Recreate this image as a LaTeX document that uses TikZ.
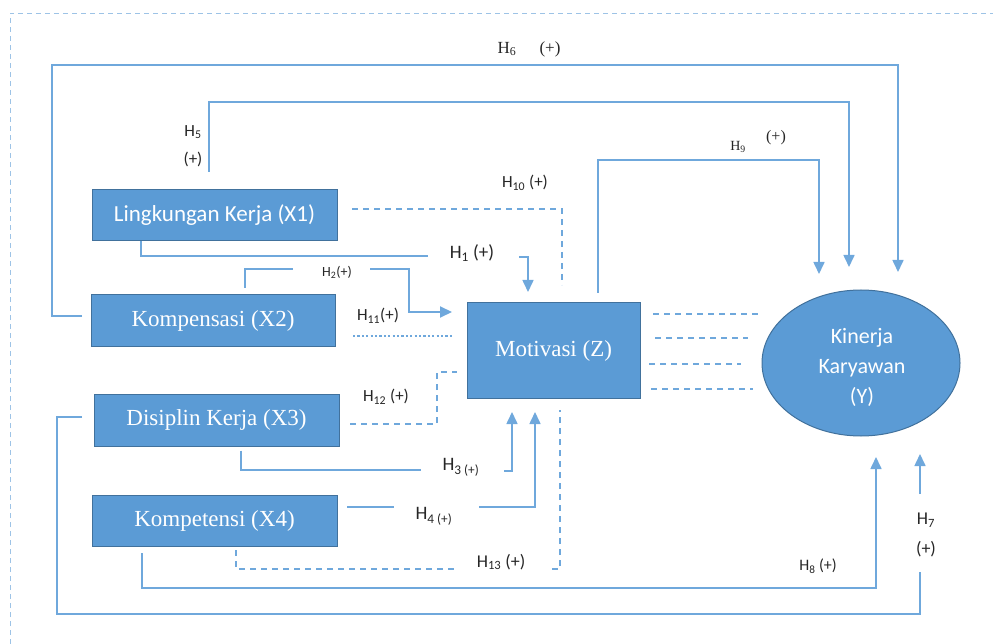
\documentclass[tikz,border=0pt]{standalone}
\usepackage{fontspec}
\setmainfont{Liberation Serif}
\newfontfamily\calib{Carlito}
\usetikzlibrary{arrows.meta,shapes.geometric}
\definecolor{boxblue}{HTML}{5B9BD5}
\definecolor{boxedge}{HTML}{41719C}
\definecolor{lineblue}{HTML}{6FA8DC}
\definecolor{frameblue}{HTML}{9DC3E6}
\newcommand\fs[1]{\fontsize{#1}{#1}\selectfont}
\tikzset{
  box/.style={draw=boxedge, fill=boxblue, line width=1pt, text=white, inner sep=0pt, minimum height=51pt, minimum width=245pt, font=\fs{23}},
  conn/.style={draw=lineblue, line width=1.1pt},
  arr/.style={conn, line width=1.6pt, -{Triangle[width=11pt,length=12pt]}},
  dsh/.style={conn, line width=1.3pt, dash pattern=on 6pt off 5pt},
  lab/.style={font=\calib\fs{17}, text=black!85, inner sep=0pt},
}
\begin{document}
\begin{tikzpicture}[x=1pt,y=-1pt]
\useasboundingbox (0,0) rectangle (993,644);
% frame
\draw[frameblue, line width=0.9pt, dash pattern=on 5pt off 4pt] (10,644) -- (10,13) -- (993,13);
% nodes
\node[box, font=\calib\fs{23}] (X1) at (214.5,215.5) {Lingkungan Kerja (X1)};
\node[box, minimum width=244pt] (X2) at (213,320.5) {Kompensasi (X2)};
\node[box, minimum height=52pt] (X3) at (216.5,420) {Disiplin Kerja (X3)};
\node[box] (X4) at (214.5,520.5) {Kompetensi (X4)};
\node[box, minimum width=173pt, minimum height=95pt] (Z) at (553.5,350.5) {Motivasi (Z)};
\node[ellipse, draw=boxedge, fill=boxblue, line width=1pt, minimum width=198pt, minimum height=146pt, inner sep=0pt] (Y) at (861,363) {};
\node[text=white, font=\calib\fs{22}, align=center, inner sep=0pt] (Ytxt) at (862,367) {Kinerja\\[8pt]Karyawan\\[8pt](Y)};
% coordinates
\coordinate (h6s) at (82,316);   \coordinate (h6e) at (898,272);
\coordinate (h5s) at (209,172);  \coordinate (h5e) at (849,267);
\coordinate (h9s) at (598,293);  \coordinate (h9e) at (819,274);
\coordinate (h10e) at (562,285);
\coordinate (h1a) at (428,256);  \coordinate (h1b) at (519,257); \coordinate (h1e) at (528,292);
\coordinate (h2a) at (293,269);  \coordinate (h2b) at (370,269); \coordinate (h2e) at (452,312);
\coordinate (h11e) at (453,336);
\coordinate (h12e) at (457,372);
\coordinate (h3a) at (421,470);  \coordinate (h3b) at (504,471); \coordinate (h3e) at (512,412);
\coordinate (h4a) at (394,507);  \coordinate (h4b) at (479,507); \coordinate (h4e) at (535,412);
\coordinate (h13a) at (454,569); \coordinate (h13b) at (552,569); \coordinate (h13e) at (560,410);
\coordinate (h8e) at (876,457);
\coordinate (h7a) at (920,572);  \coordinate (h7b) at (920,494); \coordinate (h7e) at (920,454);
% H6
\draw[conn] (h6s) -- (52,316) -- (52,65) -- (898,65) -- (898,100);
\draw[arr] (898,99) -- (h6e);
% H5
\draw[conn] (h5s) -- (209,102) -- (849,102) -- (849,120);
\draw[arr] (849,119) -- (h5e);
% H9
\draw[conn] (h9s) -- (598,160) -- (819,160) -- (819,180);
\draw[arr] (819,179) -- (h9e);
% H10
\draw[dsh] (352,209) -- (562,209) -- (h10e);
% H1
\draw[conn] ([xshift=-73.5pt]X1.south) -- (141,256) -- (h1a);
\draw[arr] (h1b) -- (528,257) -- (h1e);
% H2
\draw[conn] (245,288) -- (245,269) -- (h2a);
\draw[arr, line width=2pt] (h2b) -- (409,269) -- (409,312) -- (h2e);
% H11
\draw[lineblue, line width=2.4pt, dash pattern=on 2.2pt off 2.2pt] (353,336) -- (h11e);
% H12
\draw[dsh] (350,424) -- (437,424) -- (437,372) -- (h12e);
% H3
\draw[conn] ([xshift=24.5pt]X3.south) ++(0,4) -- (241,470) -- (h3a);
\draw[arr] (h3b) -- (512,471) -- (h3e);
% H4
\draw[conn] (347,507) -- (h4a);
\draw[arr] (h4b) -- (535,507) -- (h4e);
% H13
\draw[dsh] (236,550) -- (236,569) -- (h13a);
\draw[dsh] (h13b) -- (560,569) -- (h13e);
% H8
\draw[conn] (142,553) -- (142,588) -- (876,588) -- (876,520);
\draw[arr] (876,521) -- (h8e);
% H7
\draw[conn] (82,417) -- (57,417) -- (57,614) -- (920,614) -- (h7a);
\draw[arr] (h7b) -- (h7e);
% Z - Y dashed
\draw[dsh] (653,314) -- (761,314);
\draw[dsh] (655,338) -- (748,338);
\draw[dsh] (649,364) -- (741,364);
\draw[dsh] (651,389) -- (753,389);
% labels
\node[lab, font=\calib\fs{19}] (L1) at (472,253) {H\textsubscript{1} (+)};
\node[lab, font=\calib\fs{14}] (L2) at (337,272) {H\textsubscript{2}(+)};
\node[lab, font=\calib\fs{19}] (L3) at (461,467) {H\textsubscript{3 (+)}};
\node[lab, font=\calib\fs{19}] (L4) at (434,516) {H\textsubscript{4 (+)}};
\node[lab] (L5a) at (193,132) {H\textsubscript{5}};
\node[lab] (L5b) at (193,159) {(+)};
\node[lab, font=\fs{17}] (L6a) at (507,49) {H\textsubscript{6}};
\node[lab, font=\fs{17}] (L6b) at (550,49) {(+)};
\node[lab, font=\calib\fs{18}] (L7a) at (926,520) {H\textsubscript{7}};
\node[lab, font=\calib\fs{18}] (L7b) at (926,549) {(+)};
\node[lab, font=\calib\fs{16}] (L8) at (818,566) {H\textsubscript{8} (+)};
\node[lab, font=\fs{14}] (L9a) at (738,147) {H\textsubscript{9}};
\node[lab, font=\fs{16}] (L9b) at (776,138) {(+)};
\node[lab] (L10) at (525,183) {H\textsubscript{10} (+)};
\node[lab] (L11) at (378,316) {H\textsubscript{11}(+)};
\node[lab] (L12) at (386,397) {H\textsubscript{12} (+)};
\node[lab, font=\calib\fs{18}] (L13) at (501,562) {H\textsubscript{13} (+)};
\end{tikzpicture}
\end{document}
